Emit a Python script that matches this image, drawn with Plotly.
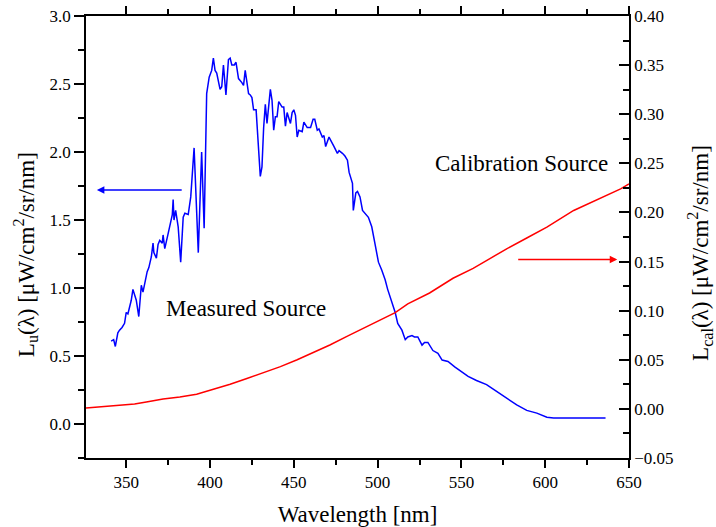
import plotly.graph_objects as go

# Measured source (left axis)
meas_wl = [341, 342.5, 343.5, 345, 346, 347.5, 349, 350, 351, 353, 354, 356, 357.5, 359, 360,
           362.5, 363.5, 365, 366, 366.5, 368, 369, 370, 371.5, 372, 373, 375, 376, 377.5, 378,
           378.5, 379.5, 381, 382.5, 384, 385, 387, 388.5, 390.5, 393, 395, 396.5, 398, 399.5,
           401, 402, 403, 404, 405, 406, 407, 408, 409.5, 411, 412, 413, 414.5, 415.5, 416, 417,
           419, 420, 421, 422, 423, 424, 425, 426, 427.5, 430, 431, 432, 433, 434, 435, 436, 437,
           438, 439, 440, 441, 443, 444, 445, 446, 448, 449, 450, 451, 452, 453, 455, 456, 458,
           460, 461.5, 462.5, 464, 465, 467, 468, 469, 471, 473, 474, 476, 477, 479, 480.5, 482,
           483, 485, 485.5, 487, 488, 489.5, 491, 494.5, 496.5, 498.5, 500.5, 502.5, 504.5, 506,
           508.5, 510.5, 512, 514.5, 516.5, 518, 520.5, 522, 524, 526.5, 528, 530, 533, 536,
           538.5, 542, 546, 550.5, 554, 559, 565, 571, 577, 583, 589, 595, 601, 605, 620, 636]
meas_val = [0.61, 0.62, 0.57, 0.67, 0.69, 0.71, 0.74, 0.82, 0.81, 0.91, 0.99, 0.91, 0.79, 1.02, 0.97,
            1.12, 1.15, 1.23, 1.33, 1.26, 1.22, 1.32, 1.35, 1.33, 1.39, 1.29, 1.40, 1.46, 1.54, 1.65,
            1.50, 1.57, 1.45, 1.19, 1.52, 1.55, 1.54, 1.67, 2.03, 1.26, 2.00, 1.44, 2.43, 2.55,
            2.60, 2.69, 2.60, 2.58, 2.51, 2.46, 2.48, 2.64, 2.42, 2.68, 2.69, 2.64, 2.64, 2.66, 2.62, 2.54,
            2.51, 2.49, 2.60, 2.50, 2.43, 2.42, 2.40, 2.31, 2.31, 1.82, 1.89, 2.18, 2.35, 2.21, 2.35, 2.46, 2.38,
            2.16, 2.26, 2.26, 2.37, 2.33, 2.33, 2.19, 2.29, 2.21, 2.29, 2.31, 2.27, 2.11, 2.16, 2.15, 2.22, 2.18,
            2.18, 2.24, 2.24, 2.16, 2.17, 2.11, 2.12, 2.04, 2.11, 2.07, 2.04, 1.99, 2.01, 1.99, 1.97, 1.94,
            1.85, 1.77, 1.57, 1.70, 1.71, 1.67, 1.57, 1.52, 1.45, 1.32, 1.19, 1.13, 1.06, 0.99,
            0.89, 0.82, 0.74, 0.69, 0.62, 0.64, 0.65, 0.64, 0.64, 0.58, 0.60, 0.60, 0.54, 0.52,
            0.47, 0.46, 0.42, 0.38, 0.35, 0.32, 0.29, 0.24, 0.19, 0.14, 0.10, 0.08, 0.05, 0.045, 0.045, 0.045]

# Calibration source (right axis)
cal_wl = [326, 333, 346, 355, 362, 372, 382, 392, 402, 412, 422, 432, 442, 452, 461.5, 471.5,
          482, 488, 497, 510.5, 518, 531, 545, 557, 567, 577, 589, 601, 617, 633, 645, 650]
cal_val = [0.001, 0.002, 0.004, 0.005, 0.007, 0.010, 0.012, 0.015, 0.020, 0.025, 0.031, 0.037,
           0.043, 0.050, 0.057, 0.065, 0.074, 0.079, 0.087, 0.098, 0.107, 0.118, 0.133, 0.143,
           0.153, 0.163, 0.174, 0.185, 0.202, 0.215, 0.224, 0.229]

left_title = "L<sub>u</sub>(λ) [μW/cm<sup>2</sup>/sr/nm]"
right_title = "L<sub>cal</sub>(λ) [μW/cm<sup>2</sup>/sr/nm]"

FONT = "Liberation Serif"

fig = go.Figure()
fig.add_trace(go.Scatter(x=meas_wl, y=meas_val, mode="lines",
                         line=dict(color="#0000ff", width=1.5), yaxis="y", showlegend=False))
fig.add_trace(go.Scatter(x=cal_wl, y=cal_val, mode="lines",
                         line=dict(color="#ff0000", width=1.5), yaxis="y2", showlegend=False))


def axcommon():
    return dict(showgrid=False, zeroline=False, showline=True, linecolor="black", linewidth=1.5,
                tickcolor="black", tickwidth=1.5, automargin=False,
                tickfont=dict(family=FONT, size=17, color="black"))


fig.update_layout(
    width=716, height=527,
    margin=dict(l=86, r=87, t=16, b=69),
    plot_bgcolor="white", paper_bgcolor="white",
    font=dict(family=FONT, color="black", size=17),
    xaxis=dict(range=[326, 650], dtick=50, tick0=350, ticks="outside", ticklen=8, mirror="ticks",
               minor=dict(dtick=25, tick0=325, ticks="outside", ticklen=5, tickcolor="black", tickwidth=1.5),
               title=dict(text="Wavelength [nm]", font=dict(family=FONT, size=23, color="black"), standoff=17),
               **axcommon()),
    yaxis=dict(range=[-0.25, 3.0], dtick=0.5, tick0=0, ticks="outside", ticklen=10, tickformat=".1f",
               minor=dict(dtick=0.25, ticks="outside", ticklen=6, tickcolor="black", tickwidth=1.5),
               **axcommon()),
    yaxis2=dict(range=[-0.05, 0.40], dtick=0.05, tick0=0, ticks="inside", ticklen=10, tickformat=".2f",
                overlaying="y", side="right",
                minor=dict(dtick=0.025, ticks="inside", ticklen=6, tickcolor="black", tickwidth=1.5),
                **axcommon()),
)

# axis titles for the two y axes
fig.add_annotation(x=-0.1123, y=0.459, xref="paper", yref="paper", text=left_title, textangle=-90,
                   xanchor="center", yanchor="middle",
                   showarrow=False, font=dict(family=FONT, size=23, color="black"))
fig.add_annotation(x=1.1308, y=0.464, xref="paper", yref="paper", text=right_title, textangle=-90,
                   xanchor="center", yanchor="middle",
                   showarrow=False, font=dict(family=FONT, size=23, color="black"))

fig.add_annotation(x=332.5, y=1.72, ax=384, ay=1.72, xref="x", yref="y", axref="x", ayref="y",
                   text="", showarrow=True, arrowhead=2, arrowsize=1, arrowwidth=1.5, arrowcolor="#0000ff")
fig.add_annotation(x=643, y=0.152, ax=583, ay=0.152, xref="x", yref="y2", axref="x", ayref="y2",
                   text="", showarrow=True, arrowhead=2, arrowsize=1, arrowwidth=1.5, arrowcolor="#ff0000")

fig.add_annotation(x=421.5, y=0.85, xref="x", yref="y", text="Measured Source", showarrow=False,
                   font=dict(family=FONT, size=23, color="black"))
fig.add_annotation(x=586, y=0.25, xref="x", yref="y2", text="Calibration Source", showarrow=False,
                   font=dict(family=FONT, size=23, color="black"))

fig.write_html("out.html")
